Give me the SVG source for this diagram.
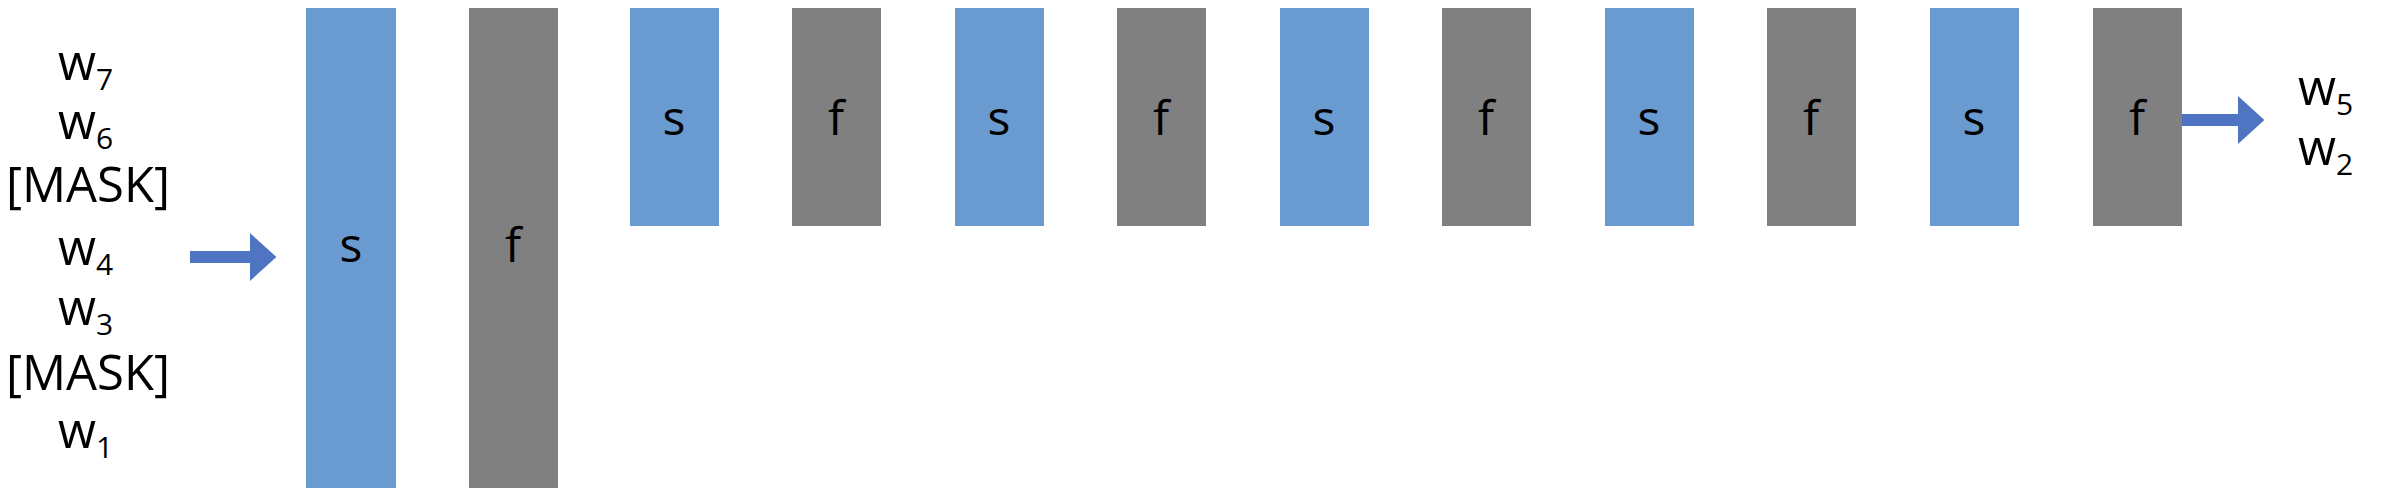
<svg xmlns="http://www.w3.org/2000/svg" width="2402" height="496" viewBox="0 0 2402 496">
<style>
.s{fill:#6a9bd0}.f{fill:#808080}
text{font-family:"Open Sans","Liberation Sans",sans-serif;fill:#000}
.t{font-size:48px;text-anchor:middle}
.sub{font-size:30px}
.l{font-size:49px}
</style>
<defs><marker id="ah" markerWidth="4" markerHeight="4" refX="1" refY="2" orient="auto" markerUnits="strokeWidth"><path d="M0,0 L2.2,2 L0,4z" fill="#4f74c1"/></marker></defs>
<rect width="2402" height="496" fill="#fff"/>
<g id="inputs">
<text x="58" y="80" class="l">w<tspan class="sub" dy="10">7</tspan></text>
<text x="58" y="139" class="l">w<tspan class="sub" dy="10">6</tspan></text>
<text x="6" y="202" class="l">[MASK]</text>
<text x="58" y="265" class="l">w<tspan class="sub" dy="10">4</tspan></text>
<text x="58" y="325" class="l">w<tspan class="sub" dy="10">3</tspan></text>
<text x="6" y="390" class="l">[MASK]</text>
<text x="58" y="448" class="l">w<tspan class="sub" dy="10">1</tspan></text>
</g>
<g id="outputs">
<text x="2298" y="105" class="l">w<tspan class="sub" dy="10">5</tspan></text>
<text x="2298" y="165" class="l">w<tspan class="sub" dy="10">2</tspan></text>
</g>
<g id="connectors" stroke="#4f74c1" stroke-width="12">
<line x1="190" y1="257" x2="262" y2="257" marker-end="url(#ah)"/>
<line x1="2177" y1="120" x2="2250" y2="120" marker-end="url(#ah)"/>
</g>
<g id="s1"><rect class="s" x="306" y="8" width="90" height="480"/><text class="t" x="351" y="262">s</text></g>
<g id="f1"><rect class="f" x="469" y="8" width="89" height="480"/><text class="t" x="513" y="262">f</text></g>
<g id="s2"><rect class="s" x="630" y="8" width="89" height="218"/><text class="t" x="674" y="135">s</text></g>
<g id="f2"><rect class="f" x="792" y="8" width="89" height="218"/><text class="t" x="836" y="135">f</text></g>
<g id="s3"><rect class="s" x="955" y="8" width="89" height="218"/><text class="t" x="999" y="135">s</text></g>
<g id="f3"><rect class="f" x="1117" y="8" width="89" height="218"/><text class="t" x="1161" y="135">f</text></g>
<g id="s4"><rect class="s" x="1280" y="8" width="89" height="218"/><text class="t" x="1324" y="135">s</text></g>
<g id="f4"><rect class="f" x="1442" y="8" width="89" height="218"/><text class="t" x="1486" y="135">f</text></g>
<g id="s5"><rect class="s" x="1605" y="8" width="89" height="218"/><text class="t" x="1649" y="135">s</text></g>
<g id="f5"><rect class="f" x="1767" y="8" width="89" height="218"/><text class="t" x="1811" y="135">f</text></g>
<g id="s6"><rect class="s" x="1930" y="8" width="89" height="218"/><text class="t" x="1974" y="135">s</text></g>
<g id="f6"><rect class="f" x="2093" y="8" width="89" height="218"/><text class="t" x="2137" y="135">f</text></g>
</svg>
